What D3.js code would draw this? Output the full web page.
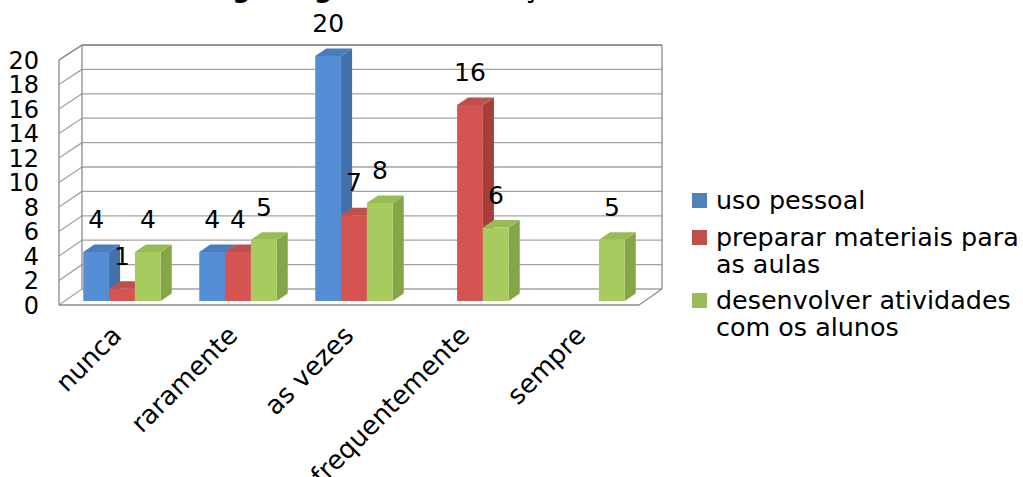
<!DOCTYPE html>
<html>
<head>
	<meta charset="utf-8">
	<script src="https://d3js.org/d3.v7.min.js"></script>
	<style>
		body { margin: 0; background: #fff; }
		text { font-family: "DejaVu Sans", sans-serif; fill: #000; }
	</style>
</head>
<body>
	<svg width="1023" height="477"></svg>
	<script>
		// categories and values
		const categories = ["nunca", "raramente", "as vezes", "frequentemente", "sempre"];
		const seriesNames = ["uso pessoal", "preparar materiais para as aulas", "desenvolver atividades com os alunos"];
		const usoPessoal = [4, 4, 20, 0, 0];
		const prepararMateriais = [1, 4, 7, 16, 0];
		const desenvolverAtividades = [4, 5, 8, 6, 5];
		const yTicks = [0, 2, 4, 6, 8, 10, 12, 14, 16, 18, 20];
		const legendLines = [["uso pessoal"], ["preparar materiais para", "as aulas"], ["desenvolver atividades", "com os alunos"]];
		const titleText = "Uso da tecnologia digital na educação";

		const seriesValues = [usoPessoal, prepararMateriais, desenvolverAtividades];
		const colors = [
			{front: "#558ed5", side: "#4270a8", top: "#4a7dbe", key: "#4f81bd"},
			{front: "#d55350", side: "#a63e3c", top: "#c0504d", key: "#c0504d"},
			{front: "#a8cb60", side: "#86a548", top: "#98bc55", key: "#9bbb59"}
		];

		const svg = d3.select("svg");

		// 3d box geometry
		const wall = {fx0: 59, fx1: 639, dx: 23, dy: -16};
		const yFront = d3.scaleLinear().domain([0, 20]).range([305, 60]);
		const yBack = d3.scaleLinear().domain([0, 20]).range([289, 45]);
		const yBar = d3.scaleLinear().domain([0, 20]).range([301, 56]);
		const barDx = 11, barDy = -7.5;

		const x = d3.scaleBand().domain(categories).range([64, 644]).paddingInner(0.332).paddingOuter(0.166);
		const xs = d3.scaleBand().domain(d3.range(3)).range([0, x.bandwidth()]);

		// title (mostly cut off at the top)
		svg.append("text")
			.attr("x", 15).attr("y", -3)
			.attr("font-size", 26).attr("font-weight", "bold")
			.text(titleText);

		const grid = svg.append("g").attr("fill", "none");
		const bx0 = wall.fx0 + wall.dx, bx1 = wall.fx1 + wall.dx;

		// back wall + left wall gridlines
		yTicks.forEach(t => {
			grid.append("line").attr("x1", bx0).attr("x2", bx1)
				.attr("y1", yBack(t)).attr("y2", yBack(t))
				.attr("stroke", "#a3a3a3").attr("stroke-width", 1.3);
			grid.append("line").attr("x1", wall.fx0).attr("x2", bx0)
				.attr("y1", yFront(t)).attr("y2", yBack(t))
				.attr("stroke", "#a3a3a3").attr("stroke-width", 1.3);
		});
		const outline = "#8a8a8a";
		const seg = (x1, y1, x2, y2) => grid.append("line")
			.attr("x1", x1).attr("y1", y1).attr("x2", x2).attr("y2", y2)
			.attr("stroke", outline).attr("stroke-width", 1.3);
		seg(wall.fx0, yFront(0), wall.fx0, yFront(20));
		seg(bx0, yBack(0), bx0, yBack(20));
		seg(bx1, yBack(0), bx1, yBack(20));
		seg(bx0, yBack(20), bx1, yBack(20));
		seg(wall.fx0, yFront(20), bx0, yBack(20));
		seg(wall.fx0, yFront(0), wall.fx1, yFront(0));
		seg(wall.fx1, yFront(0), bx1, yBack(0));

		// y tick labels
		svg.append("g").selectAll("text").data(yTicks).join("text")
			.attr("x", 39).attr("y", d => yFront(d))
			.attr("dy", "0.36em")
			.attr("text-anchor", "end")
			.attr("font-size", 24)
			.text(d => d);

		// bars
		const bars = [];
		seriesValues.forEach((vals, s) => {
			vals.forEach((v, i) => bars.push({cat: categories[i], s: s, v: v}));
		});
		const shown = bars.filter(d => d.v > 0);
		const barG = svg.append("g");
		shown.forEach(d => {
			const x0 = x(d.cat) + xs(d.s), x1 = x0 + xs.bandwidth();
			const yt = yBar(d.v), yb = yBar(0);
			const c = colors[d.s];
			barG.append("path")
				.attr("d", `M${x1},${yb}L${x1 + barDx},${yb + barDy}L${x1 + barDx},${yt + barDy}L${x1},${yt}Z`)
				.attr("fill", c.side);
			barG.append("path")
				.attr("d", `M${x0},${yt}L${x0 + barDx},${yt + barDy}L${x1 + barDx},${yt + barDy}L${x1},${yt}Z`)
				.attr("fill", c.top);
			barG.append("rect")
				.attr("x", x0).attr("y", yt)
				.attr("width", xs.bandwidth()).attr("height", yb - yt)
				.attr("fill", c.front);
		});

		// value labels
		svg.append("g").selectAll("text").data(shown).join("text")
			.attr("x", d => x(d.cat) + xs(d.s) + xs.bandwidth() / 2)
			.attr("y", d => yBar(d.v) - 33)
			.attr("dy", "0.36em")
			.attr("text-anchor", "middle")
			.attr("font-size", 25)
			.text(d => d.v);

		// category labels, rotated
		svg.append("g").selectAll("text").data(categories).join("text")
			.attr("transform", d => `translate(${x(d) + x.bandwidth() / 2 + 1},${337}) rotate(-45)`)
			.attr("text-anchor", "end")
			.attr("font-size", 26)
			.text(d => d);

		// legend
		const legY = [200, 237, 300];
		const leg = svg.append("g");
		legendLines.forEach((lines, i) => {
			leg.append("rect")
				.attr("x", 692).attr("y", legY[i] - 7)
				.attr("width", 15).attr("height", 15)
				.attr("fill", colors[i].key);
			const t = leg.append("text")
				.attr("x", 716).attr("y", legY[i])
				.attr("font-size", 25.4);
			lines.forEach((ln, k) => {
				t.append("tspan").attr("x", 716).attr("dy", k === 0 ? "0.36em" : "1.05em").text(ln);
			});
		});
	</script>
</body>
</html>
